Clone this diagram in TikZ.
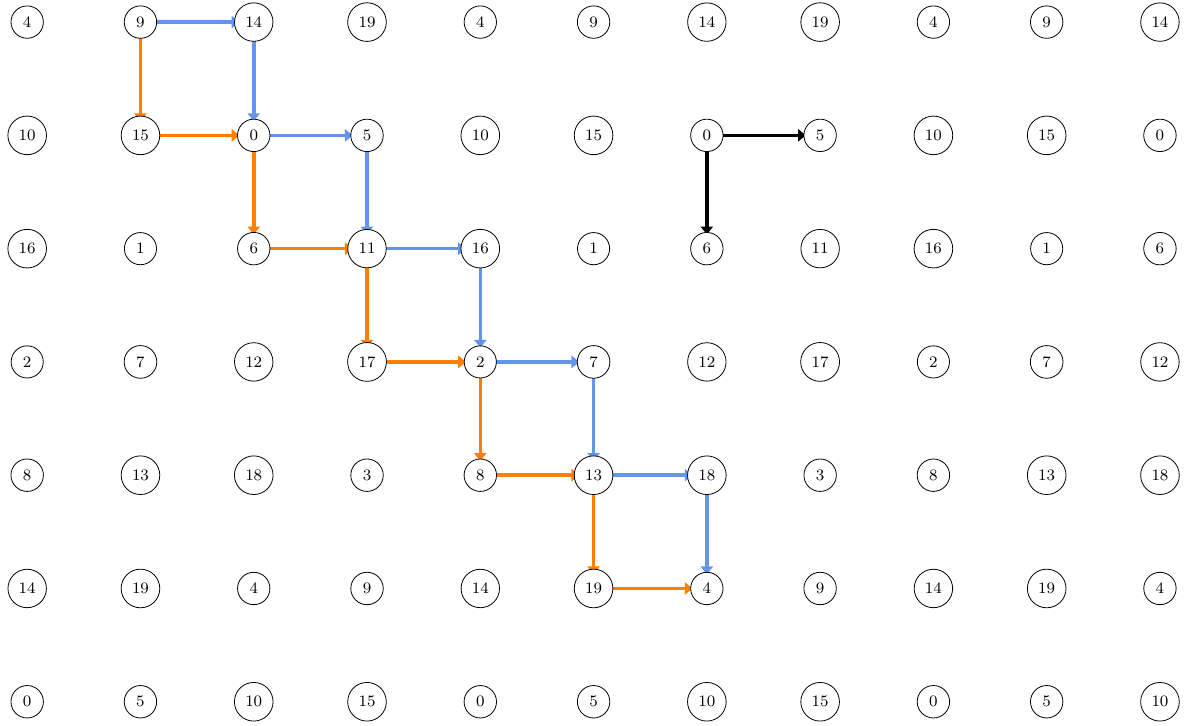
\documentclass[tikz,border=0pt]{standalone}
\usepackage{tikz}
\usetikzlibrary{arrows.meta,backgrounds}
\definecolor{pathblue}{RGB}{100,149,237}
\definecolor{pathorange}{RGB}{255,127,0}

\begin{document}
\begin{tikzpicture}[>={Latex[length=4.5pt,width=7pt]},
  cell/.style={draw,circle,fill=white,font=\footnotesize},
  hop/.style={->,line width=1.8pt,shorten >=6.6pt}]
\useasboundingbox (-0.48,-12.42) rectangle (20.46,0.39);
% grid of residues
\foreach \i in {0,...,10}
  \foreach \j in {0,...,6}{
    \pgfmathtruncatemacro{\val}{mod(4+5*\i+6*\j,20)}
    \node[cell] (n-\i-\j) at (2*\i,-2*\j) {\val};
  }
\begin{scope}[on background layer]
% two staircase paths
\foreach \k in {0,...,4}{
  \pgfmathtruncatemacro{\a}{1+\k}
  \pgfmathtruncatemacro{\b}{2+\k}
  \pgfmathtruncatemacro{\c}{1+\k}
  \draw[hop,pathblue] (n-\a-\k.center) -- (n-\b-\k.center);
  \draw[hop,pathblue] (n-\b-\k.center) -- (n-\b-\c.center);
  \draw[hop,pathorange] (n-\a-\k.center) -- (n-\a-\c.center);
  \draw[hop,pathorange] (n-\a-\c.center) -- (n-\b-\c.center);
}
% unit steps
\draw[hop,black] (n-6-1.center) -- (n-7-1.center);
\draw[hop,black] (n-6-1.center) -- (n-6-2.center);
\end{scope}
\end{tikzpicture}
\end{document}
